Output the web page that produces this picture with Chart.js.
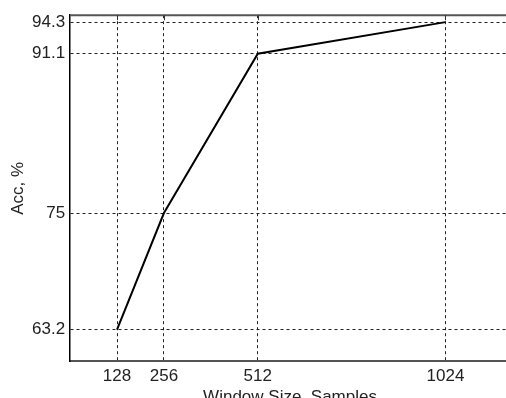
<!DOCTYPE html>
<html>
<head>
<meta charset="utf-8">
<script src="https://cdn.jsdelivr.net/npm/chart.js@4/dist/chart.umd.min.js"></script>
<style>
  html, body { margin: 0; padding: 0; background: #fff; overflow: hidden; }
  #wrap { width: 510px; height: 402px; }
</style>
</head>
<body>
<div id="wrap"><canvas id="myChart"></canvas></div>
<script>
// Data
const windowSizes = [128, 256, 512, 1024];
const accuracy = [63.2, 75, 91.1, 94.3];
const xTicks = [128, 256, 512, 1024];
const yTicks = [63.2, 75, 91.1, 94.3];

const textColor = '#222';
const fontSpec = { family: 'Liberation Sans', size: 17 };

// Top frame line + small tick marks hanging from it
const topFrame = {
    id: 'topFrame',
    afterDraw(chart) {
        const ctx = chart.ctx;
        const area = chart.chartArea;
        const xs = chart.scales.x;
        ctx.save();
        ctx.strokeStyle = '#555';
        ctx.lineWidth = 2;
        ctx.beginPath();
        ctx.moveTo(area.left, area.top);
        ctx.lineTo(area.right, area.top);
        ctx.stroke();
        ctx.lineWidth = 1;
        ctx.strokeStyle = '#333';
        xTicks.forEach((v) => {
            const px = Math.round(xs.getPixelForValue(v)) + 0.5;
            ctx.beginPath();
            ctx.moveTo(px, area.top);
            ctx.lineTo(px, area.top + 5);
            ctx.stroke();
        });
        ctx.restore();
    }
};

const ctx = document.getElementById('myChart').getContext('2d');
const chart = new Chart(ctx, {
    type: 'line',
    data: {
        datasets: [{
            data: windowSizes.map((x, i) => ({ x: x, y: accuracy[i] })),
            borderColor: '#000',
            borderWidth: 2,
            pointRadius: 0,
            fill: false,
            tension: 0
        }]
    },
    options: {
        responsive: true,
        maintainAspectRatio: false,
        animation: false,
        layout: { padding: { top: 15, right: 0, left: 10, bottom: 0 } },
        plugins: {
            legend: { display: false },
            tooltip: { enabled: false }
        },
        scales: {
            x: {
                type: 'linear',
                min: 0,
                max: 1200,
                afterBuildTicks: (axis) => {
                    axis.ticks = xTicks.map((v) => ({ value: v }));
                },
                ticks: {
                    color: textColor,
                    font: fontSpec,
                    padding: 5,
                    maxRotation: 0,
                    autoSkip: false,
                    callback: (v) => String(v)
                },
                grid: {
                    color: '#222',
                    lineWidth: 1,
                    drawTicks: false
                },
                border: { display: true, color: '#555', width: 2, dash: [3, 3] },
                title: {
                    display: true,
                    text: 'Window Size, Samples',
                    color: textColor,
                    font: { family: 'Liberation Sans', size: 17, lineHeight: 0.6 },
                    padding: { top: 0, bottom: 0 }
                }
            },
            y: {
                min: 60,
                max: 95,
                afterBuildTicks: (axis) => {
                    axis.ticks = yTicks.map((v) => ({ value: v }));
                },
                ticks: {
                    color: textColor,
                    font: fontSpec,
                    padding: 5,
                    autoSkip: false,
                    callback: (v) => String(v)
                },
                grid: {
                    color: '#222',
                    lineWidth: 1,
                    drawTicks: false
                },
                border: { display: true, color: '#000', width: 1.5, dash: [3, 3] },
                title: {
                    display: true,
                    text: 'Acc, %',
                    color: textColor,
                    font: { family: 'Liberation Sans', size: 17, lineHeight: 1.0 },
                    padding: { top: 0, bottom: 0 }
                }
            }
        }
    },
    plugins: [topFrame]
});
</script>
</body>
</html>
